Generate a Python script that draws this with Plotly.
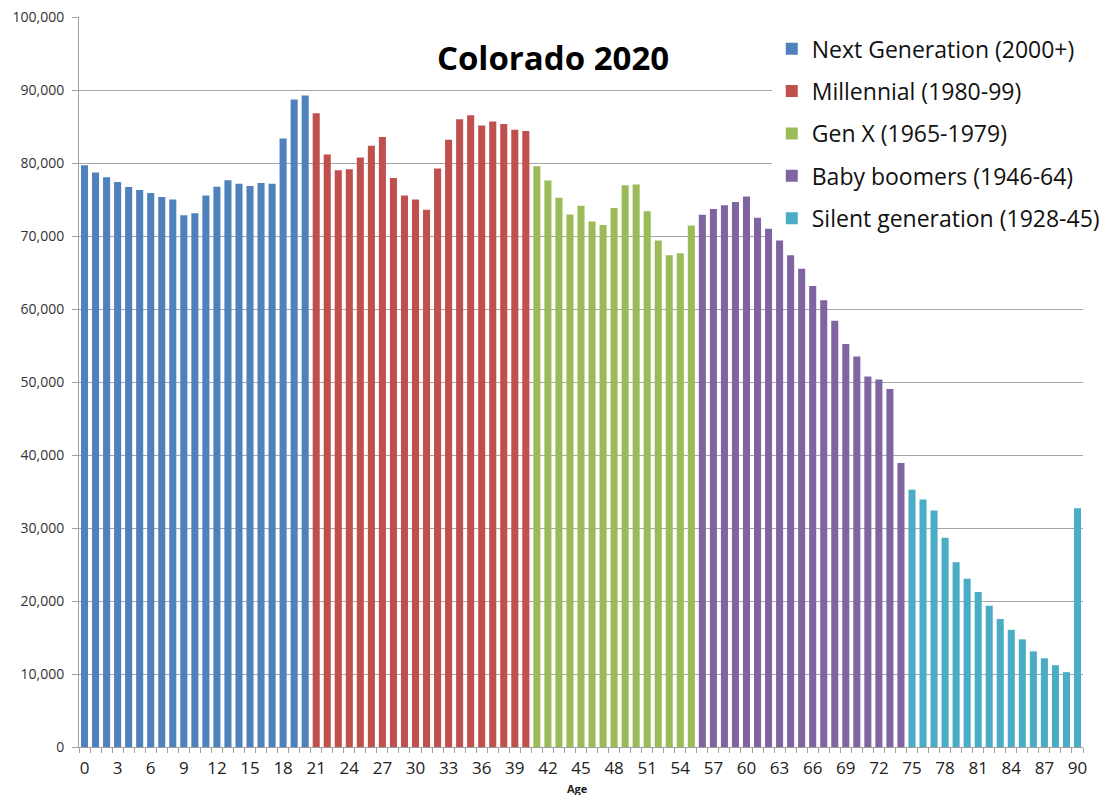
import plotly.graph_objects as go

ages_next = list(range(0, 21))
pop_next = [79700, 78700, 78050, 77400, 76700, 76300, 75900, 75350, 75000, 72850, 73100,
            75550, 76750, 77650, 77150, 76850, 77250, 77150, 83350, 88700, 89250]

ages_mill = list(range(21, 41))
pop_mill = [86800, 81150, 79000, 79150, 80750, 82350, 83550, 77950, 75550, 75000,
            73600, 79250, 83200, 86000, 86550, 85150, 85700, 85350, 84550, 84400]

ages_genx = list(range(41, 56))
pop_genx = [79550, 77600, 75250, 72950, 74150, 72000, 71500, 73850, 76950, 77050,
            73400, 69400, 67350, 67650, 71450]

ages_boom = list(range(56, 75))
pop_boom = [72900, 73700, 74200, 74650, 75400, 72500, 71000, 69400, 67350, 65500,
            63150, 61200, 58400, 55200, 53500, 50750, 50350, 49050, 38900]

ages_silent = list(range(75, 91))
pop_silent = [35250, 33900, 32400, 28650, 25300, 23050, 21250, 19350, 17550, 16050,
              14750, 13100, 12150, 11200, 10250, 32700]

series = [
    ("Next Generation (2000+)", ages_next, pop_next, "#4F81BD"),
    ("Millennial (1980-99)", ages_mill, pop_mill, "#C0504D"),
    ("Gen X (1965-1979)", ages_genx, pop_genx, "#9BBB59"),
    ("Baby boomers (1946-64)", ages_boom, pop_boom, "#8064A2"),
    ("Silent generation (1928-45)", ages_silent, pop_silent, "#4BACC6"),
]

tick_vals = list(range(0, 91, 3))

fig = go.Figure()
for i, (name, x, y, c) in enumerate(series):
    fig.add_trace(go.Bar(x=x, y=y, name=name, marker=dict(color=c, line=dict(width=0)),
                         legendgroup=f"g{i}"))

W, H = 1093, 787
fig.update_layout(
    width=W, height=H,
    margin=dict(l=71, r=18, t=9, b=48, autoexpand=False),
    paper_bgcolor="white", plot_bgcolor="white",
    barmode="relative", bargap=0.36,
    font=dict(family="Open Sans, Lato, sans-serif", color="#222"),
    title=dict(text="<b>Colorado 2020</b>", x=(553 - 8) / W, xanchor="center",
               y=1 - 50 / H, yanchor="middle",
               font=dict(size=33, color="black", family="Open Sans, sans-serif")),
    legend=dict(x=0.69, xanchor="left", y=0.986, yanchor="top",
                bgcolor="white", font=dict(size=23, color="#111"),
                tracegroupgap=9.5, itemwidth=30),
    xaxis=dict(range=[-0.5, 90.5], tickmode="array", tickvals=tick_vals,
               ticktext=[str(v) for v in tick_vals], ticks="", showgrid=False,
               showline=True, linecolor="#a0a0a0", linewidth=1, automargin=False,
               tickfont=dict(size=17, color="#222"), ticklabelstandoff=6,
               minor=dict(ticks="outside", tick0=-0.5, dtick=1, ticklen=5,
                          tickcolor="#a0a0a0", showgrid=False)),
    yaxis=dict(range=[0, 100000], dtick=10000, tickformat=",", showgrid=True,
               gridcolor="#a6a6a6", gridwidth=1, showline=True, linecolor="#a0a0a0",
               ticks="outside", ticklen=6, tickcolor="#a0a0a0", automargin=False,
               ticklabelstandoff=5, ticklabeloverflow="allow",
               tickfont=dict(size=14, color="#333"), zeroline=False),
    annotations=[dict(text="<b>Age</b>", xref="paper", yref="paper",
                      x=(577 - 79) / 1004, y=0, yshift=-41, xanchor="center",
                      yanchor="middle", showarrow=False,
                      font=dict(size=11, color="#222"))],
)

fig.write_html("out.html")
